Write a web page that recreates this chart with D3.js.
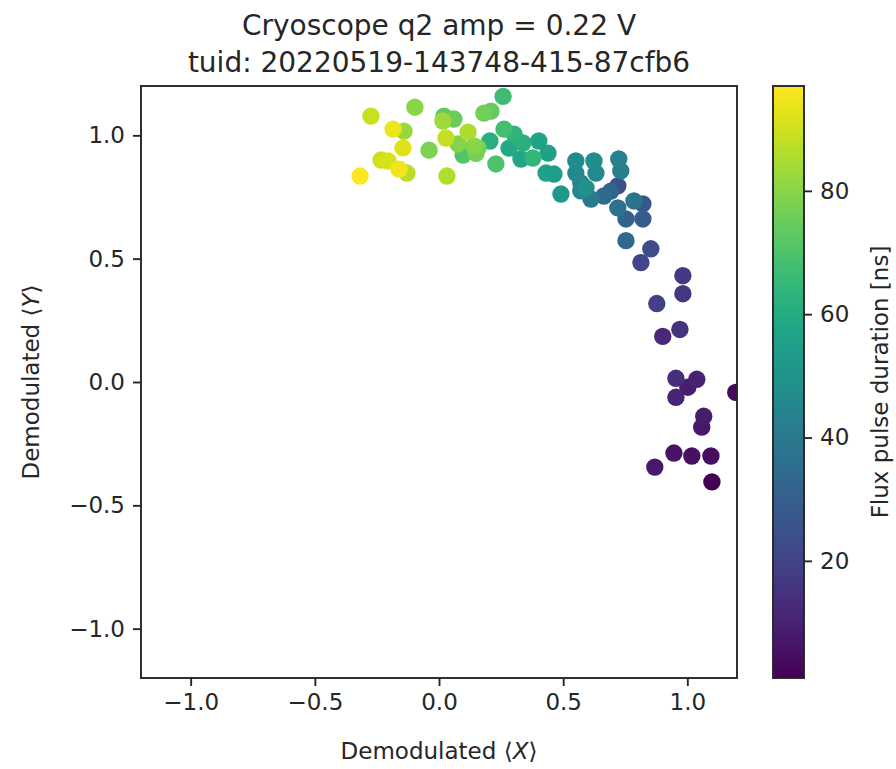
<!DOCTYPE html>
<html>
<head>
<meta charset="utf-8">
<script src="https://cdn.jsdelivr.net/npm/d3@7"></script>
<style>
  body { margin: 0; background: #fff; }
  svg { display: block; font-family: "DejaVu Sans", sans-serif; }
</style>
</head>
<body>
<svg id="chart" width="896" height="769"></svg>
<script>
// demodulated <X>, <Y> and flux pulse duration (ns)
var xs = [-0.318, -0.274, -0.185, -0.141, -0.145, -0.233, -0.205, -0.161, -0.129, -0.097,
  -0.040, 0.032, 0.020, 0.060, 0.016, 0.028, 0.117, 0.076, 0.141, 0.157,
  0.097, 0.181, 0.209, 0.258, 0.205, 0.262, 0.229, 0.282, 0.302, 0.338,
  0.330, 0.378, 0.402, 0.439, 0.431, 0.463, 0.491, 0.551, 0.551, 0.571,
  0.592, 0.624, 0.632, 0.612, 0.724, 0.732, 0.720, 0.664, 0.692, 0.785,
  0.821, 0.720, 0.753, 0.821, 0.753, 0.853, 0.813, 0.982, 0.982, 0.877,
  0.970, 0.901, 0.954, 1.038, 1.002, 0.954, 1.195, 1.066, 1.058, 0.946,
  1.018, 1.095, 0.869, 1.099, 0.149, 0.571];
var ys = [0.835, 1.078, 1.025, 1.017, 0.949, 0.900, 0.896, 0.863, 0.847, 1.114,
  0.940, 0.835, 1.078, 1.066, 1.058, 0.989, 1.013, 0.965, 0.957, 0.949,
  0.920, 1.090, 1.098, 1.158, 0.977, 1.025, 0.884, 0.948, 1.005, 0.969,
  0.904, 0.908, 0.977, 0.928, 0.847, 0.843, 0.762, 0.896, 0.847, 0.775,
  0.787, 0.896, 0.847, 0.742, 0.904, 0.856, 0.795, 0.754, 0.774, 0.734,
  0.722, 0.706, 0.661, 0.661, 0.573, 0.540, 0.484, 0.431, 0.358, 0.318,
  0.213, 0.185, 0.015, 0.011, -0.021, -0.062, -0.042, -0.139, -0.183, -0.288,
  -0.300, -0.300, -0.345, -0.405, 0.927, 0.807];
var durations = [97, 89, 94, 82, 92, 90, 91, 95, 87, 80,
  78, 86, 73, 75, 83, 88, 85, 79, 80, 77,
  71, 76, 74, 67, 61, 68, 70, 59, 63, 62,
  58, 64, 57, 56, 55, 54, 52, 47, 46, 45,
  49, 48, 46, 40, 43, 42, 24, 34, 32, 38,
  27, 37, 31, 28, 33, 23, 21, 17, 16, 19,
  15, 12, 13, 10, 9, 11, 3, 8, 7, 6,
  5, 4, 7, 1, 77, 44];

var xTicks = [-1.0, -0.5, 0.0, 0.5, 1.0];
var yTicks = [-1.0, -0.5, 0.0, 0.5, 1.0];
var cbTicks = [20, 40, 60, 80];

var svg = d3.select("#chart");
var mLeft = 141, mRight = 737, mTop = 86, mBottom = 678;
var cbLeft = 773, cbRight = 804;
var ink = "#262626";

var x = d3.scaleLinear().domain([-1.2, 1.2]).range([mLeft, mRight]);
var y = d3.scaleLinear().domain([-1.2, 1.2]).range([mBottom, mTop]);
var tExt = d3.extent(durations);
var color = d3.scaleSequential(d3.interpolateViridis).domain(tExt);
var cb = d3.scaleLinear().domain(tExt).range([mBottom, mTop]);

var pts = d3.range(xs.length).map(function(i) {
  return {x: xs[i], y: ys[i], t: durations[i]};
}).sort(function(a, b) { return a.t - b.t; });

svg.append("clipPath").attr("id", "clip")
  .append("rect").attr("x", mLeft).attr("y", mTop)
  .attr("width", mRight - mLeft).attr("height", mBottom - mTop);

svg.append("g").attr("clip-path", "url(#clip)")
  .selectAll("circle").data(pts)
  .enter().append("circle")
    .attr("cx", function(d) { return x(d.x); })
    .attr("cy", function(d) { return y(d.y); })
    .attr("r", 8.7)
    .attr("fill", function(d) { return color(d.t); });

function fmt(v) { return d3.format(".1f")(v).replace("-", "\u2212"); }

var xAxis = svg.append("g").attr("transform", "translate(0," + mBottom + ")")
  .call(d3.axisBottom(x).tickValues(xTicks).tickFormat(fmt).tickSize(8).tickPadding(8));
var yAxis = svg.append("g").attr("transform", "translate(" + mLeft + ",0)")
  .call(d3.axisLeft(y).tickValues(yTicks).tickFormat(fmt).tickSize(8).tickPadding(8));
[xAxis, yAxis].forEach(function(g) {
  g.select(".domain").remove();
  g.selectAll("line").attr("stroke", ink).attr("stroke-width", 1.9);
  g.selectAll("text").attr("fill", ink).style("font-size", "23px")
    .style("font-family", "DejaVu Sans");
});

svg.append("rect").attr("x", mLeft).attr("y", mTop)
  .attr("width", mRight - mLeft).attr("height", mBottom - mTop)
  .attr("fill", "none").attr("stroke", ink).attr("stroke-width", 1.9);

// axis labels
var xl = svg.append("text").attr("x", (mLeft + mRight) / 2).attr("y", 759)
  .attr("text-anchor", "middle").attr("fill", ink).style("font-size", "23px");
xl.append("tspan").text("Demodulated \u27E8");
xl.append("tspan").style("font-style", "italic").text("X");
xl.append("tspan").text("\u27E9");

var yl = svg.append("text").attr("transform", "translate(39," + (mTop + mBottom) / 2 + ") rotate(-90)")
  .attr("text-anchor", "middle").attr("fill", ink).style("font-size", "23px");
yl.append("tspan").text("Demodulated \u27E8");
yl.append("tspan").style("font-style", "italic").text("Y");
yl.append("tspan").text("\u27E9");

// title
svg.append("text").attr("x", (mLeft + mRight) / 2).attr("y", 35)
  .attr("text-anchor", "middle").attr("fill", ink).style("font-size", "28px")
  .text("Cryoscope q2 amp = 0.22 V");
svg.append("text").attr("x", (mLeft + mRight) / 2).attr("y", 72)
  .attr("text-anchor", "middle").attr("fill", ink).style("font-size", "28px")
  .text("tuid: 20220519-143748-415-87cfb6");

// colorbar
var grad = svg.append("defs").append("linearGradient").attr("id", "viridis")
  .attr("x1", 0).attr("y1", 1).attr("x2", 0).attr("y2", 0);
d3.range(0, 1.0001, 0.05).forEach(function(s) {
  grad.append("stop").attr("offset", s).attr("stop-color", d3.interpolateViridis(s));
});
svg.append("rect").attr("x", cbLeft).attr("y", mTop)
  .attr("width", cbRight - cbLeft).attr("height", mBottom - mTop)
  .attr("fill", "url(#viridis)").attr("stroke", ink).attr("stroke-width", 1.9);

var cbAxis = svg.append("g").attr("transform", "translate(" + cbRight + ",0)")
  .call(d3.axisRight(cb).tickValues(cbTicks).tickSize(8).tickPadding(8));
cbAxis.select(".domain").remove();
cbAxis.selectAll("line").attr("stroke", ink).attr("stroke-width", 1.9);
cbAxis.selectAll("text").attr("fill", ink).style("font-size", "23px")
  .style("font-family", "DejaVu Sans");

svg.append("text").attr("transform", "translate(888," + (mTop + mBottom) / 2 + ") rotate(-90)")
  .attr("text-anchor", "middle").attr("fill", ink).style("font-size", "23px")
  .text("Flux pulse duration [ns]");
</script>
</body>
</html>
